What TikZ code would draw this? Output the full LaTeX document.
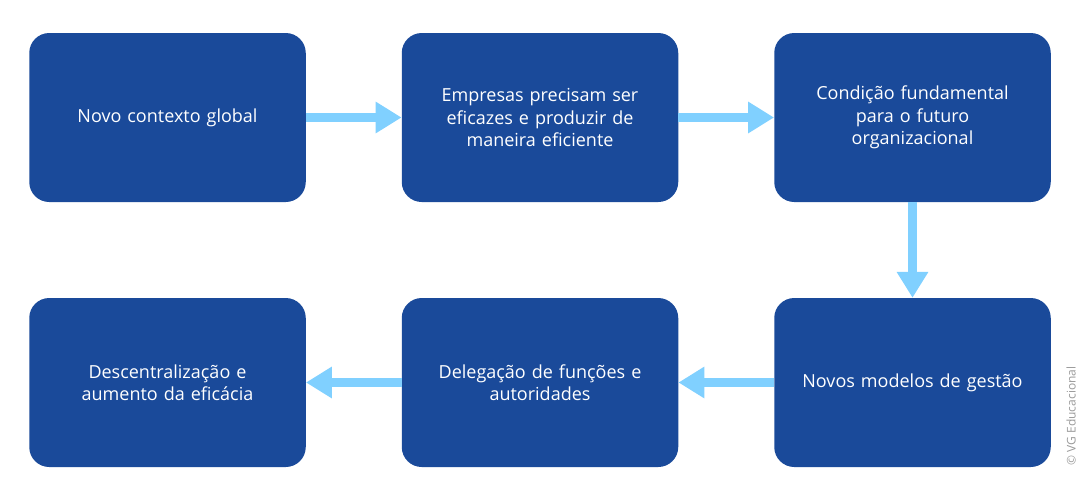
\documentclass[tikz,border=0pt]{standalone}
\usepackage{fontspec}
\setmainfont{Open Sans}
\usetikzlibrary{arrows.meta}
\definecolor{boxblue}{HTML}{1A4A9A}
\definecolor{arrowblue}{HTML}{80D0FF}
\definecolor{copygray}{HTML}{9A9A9A}
\tikzset{
  stepbox/.style={fill=boxblue, draw=none, rounded corners=20pt,
    minimum width=276.5pt, minimum height=169pt, text=white,
    text width=250pt, align=center, inner sep=0pt,
    font=\fontsize{18pt}{22.5pt}\selectfont},
  flow/.style={draw=arrowblue, line width=9pt,
    -{Triangle[length=26pt,width=30pt]}}
}
\begin{document}
\begin{tikzpicture}[x=1pt,y=-1pt]
\useasboundingbox (0,0) rectangle (1081,501);
\node[stepbox] (b1) at (167.5,117.5) {Novo contexto global};
\node[stepbox] (b2) at (540,117.5) {Empresas precisam ser\\eficazes e produzir de\\maneira eficiente};
\node[stepbox] (b3) at (912.5,117.5) {Condição fundamental\\para o futuro\\organizacional};
\node[stepbox] (b6) at (167.5,382.5) {Descentralização e\\aumento da eficácia};
\node[stepbox] (b5) at (540,382.5) {Delegação de funções e\\autoridades};
\node[stepbox] (b4) at (912.5,382.5) {Novos modelos de gestão};
\draw[flow] (b1) -- (b2);
\draw[flow] (b2) -- (b3);
\draw[flow] (b3) -- (b4);
\draw[flow] (b4) -- (b5);
\draw[flow] (b5) -- (b6);
\node[rotate=90, text=copygray, font=\fontsize{12pt}{14pt}\selectfont, inner sep=0pt] (copy) at (1071,416) {© VG Educacional};
\end{tikzpicture}
\end{document}
